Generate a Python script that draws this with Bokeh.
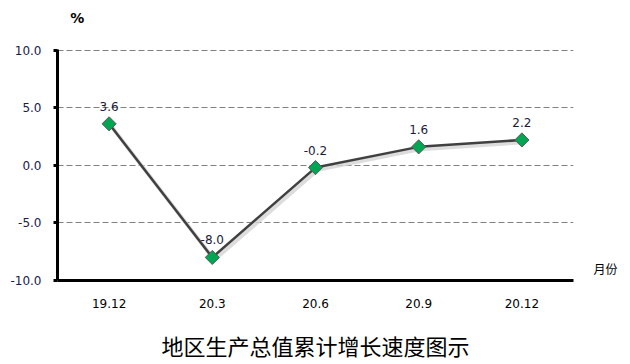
import math
from bokeh.plotting import figure
from bokeh.models import (ColumnDataSource, Range1d, FixedTicker, LabelSet, LinearAxis,
                          FactorRange, CategoricalAxis)
from bokeh.core.properties import value
from bokeh.embed import file_html
from bokeh.resources import INLINE

months = ["19.12", "20.3", "20.6", "20.9", "20.12"]
growth = [3.6, -8.0, -0.2, 1.6, 2.2]
labels = ["3.6", "-8.0", "-0.2", "1.6", "2.2"]
y_ticks = [-10, -5, 0, 5, 10]
title_text = "地区生产总值累计增长速度图示"
y_unit = "%"
x_unit = "月份"

src = ColumnDataSource(dict(x=months, y=growth, t=labels))

p = figure(width=622, height=363, x_range=months, y_range=Range1d(-10, 10.05),
           output_backend="svg", toolbar_location=None,
           min_border_left=57, min_border_right=49, min_border_top=49, min_border_bottom=83)
p.outline_line_color = None
p.background_fill_color = "white"
p.border_fill_color = "white"

p.xgrid.grid_line_color = None
p.ygrid.grid_line_color = "#808080"
p.ygrid.grid_line_dash = "6 3"
p.ygrid.grid_line_width = 1
p.yaxis.ticker = FixedTicker(ticks=y_ticks)
p.yaxis.major_label_overrides = {t: f"{t:.1f}" for t in y_ticks}
p.yaxis.axis_line_width = 3
p.yaxis.axis_line_color = "black"
p.yaxis.major_tick_line_width = 3
p.yaxis.major_tick_out = 4
p.yaxis.major_tick_in = 0
p.yaxis.minor_tick_line_color = None
p.yaxis.major_label_text_font = "DejaVu Sans"
p.yaxis.major_label_text_font_size = "12px"
p.yaxis.major_label_text_color = "#1a1a4a"
p.yaxis.major_label_standoff = 12

p.xaxis.axis_line_width = 3
p.xaxis.axis_line_color = "black"
p.xaxis.major_tick_line_color = None
p.xaxis.minor_tick_line_color = None
p.xaxis.major_label_text_font = "DejaVu Sans"
p.xaxis.major_label_text_font_size = "12px"
p.xaxis.major_label_text_color = "black"
p.xaxis.major_label_standoff = 12
p.xaxis.axis_label = title_text
p.xaxis.axis_label_text_font = "Noto Sans CJK SC"
p.xaxis.axis_label_text_font_size = "22px"
p.xaxis.axis_label_text_font_style = "normal"
p.xaxis.axis_label_text_color = "black"
p.xaxis.axis_label_standoff = 18

# "月份" unit via a right-side axis with one tick
unit_axis = LinearAxis(ticker=FixedTicker(ticks=[-9]), major_label_overrides={-9: x_unit},
                       axis_line_color=None, major_tick_line_color=None,
                       minor_tick_line_color=None, major_tick_out=0, major_tick_in=0,
                       major_label_standoff=20, major_label_text_font="Noto Sans CJK SC",
                       major_label_text_font_size="12px", major_label_text_color="black")
p.add_layout(unit_axis, "right")

# "%" unit via an above categorical axis on a helper factor range (other factors blank)
p.extra_x_ranges = {"unit": FactorRange(factors=[y_unit] + [" " * k for k in range(1, 13)])}
pct_axis = CategoricalAxis(x_range_name="unit",
                           axis_line_color=None, major_tick_line_color=None,
                           minor_tick_line_color=None, major_tick_out=0, major_tick_in=0,
                           major_label_standoff=24, major_label_text_font="DejaVu Sans",
                           major_label_text_font_size="14px", major_label_text_font_style="bold",
                           major_label_text_color="black")
p.add_layout(pct_axis, "above")

# shadow
p.line(x=[i + 0.5 + 0.02 for i in range(len(months))], y=[v - 0.2 for v in growth],
       line_color="#d4d4d4", line_width=4, line_alpha=0.8)
p.line(x="x", y="y", source=src, line_color="#404040", line_width=2.5)
p.scatter(x="x", y="y", source=src, marker="square", size=10, angle=math.pi / 4,
          fill_color="#00A651", line_color="#5a5a5a", line_width=1)

p.add_layout(LabelSet(x="x", y="y", text="t", source=src, y_offset=13,
                      text_align="center", text_baseline="bottom",
                      text_font=value("DejaVu Sans"), text_font_size="12px",
                      text_color="#1a1a3a"))

open("out.html", "w").write(file_html(p, INLINE))
